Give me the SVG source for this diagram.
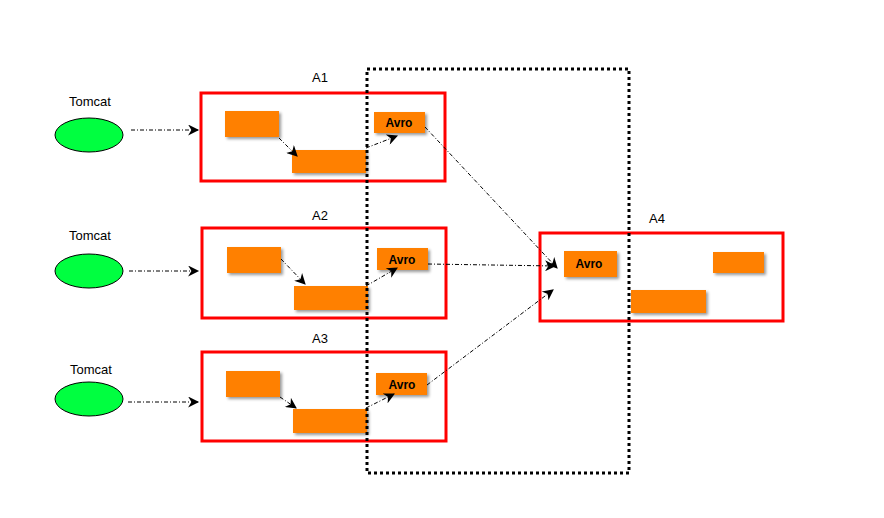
<svg xmlns="http://www.w3.org/2000/svg" width="884" height="518" viewBox="0 0 884 518">
<defs>
<marker id="ah" viewBox="0 0 10 10" refX="9" refY="5" markerWidth="13" markerHeight="11" orient="auto" markerUnits="userSpaceOnUse"><path d="M0,0 L10,5 L0,10 L3,5 z" fill="#000"/></marker>
<filter id="sh" x="-20%" y="-20%" width="150%" height="160%"><feDropShadow dx="2" dy="2" stdDeviation="1.5" flood-color="#000" flood-opacity="0.4"/></filter>
</defs>
<style>
.box{fill:none;stroke:#f00;stroke-width:3}
.or{fill:#ff8000;filter:url(#sh)}
.el{fill:#00ff40;stroke:#000;stroke-width:1}
.t{font-family:"Liberation Sans",Arial,sans-serif;font-size:13px;text-anchor:middle;fill:#000;paint-order:stroke;stroke:#fff;stroke-width:3}
.av{font-family:"Liberation Sans",Arial,sans-serif;font-size:12px;font-weight:bold;text-anchor:middle;fill:#000}
.c{fill:none;stroke:#000;stroke-width:1;stroke-dasharray:4,2,1,2;marker-end:url(#ah)}
</style>
<rect width="884" height="518" fill="#fff"/>
<g id="tomcat1"><ellipse class="el" cx="89" cy="135" rx="34" ry="17"/><text class="t" x="90" y="106">Tomcat</text></g>
<g id="tomcat2"><ellipse class="el" cx="89" cy="271" rx="34" ry="17"/><text class="t" x="90" y="240">Tomcat</text></g>
<g id="tomcat3"><ellipse class="el" cx="89" cy="399" rx="34" ry="17"/><text class="t" x="91" y="374">Tomcat</text></g>
<g id="A1"><rect class="box" x="201" y="93" width="244" height="88"/><text class="t" x="320" y="82">A1</text>
<rect class="or" x="225" y="111" width="54" height="26"/><rect class="or" x="292" y="150" width="74" height="23"/>
<rect class="or" x="374" y="112" width="51" height="21"/><text class="av" x="399" y="127">Avro</text></g>
<g id="A2"><rect class="box" x="202" y="228" width="244" height="90"/><text class="t" x="320" y="220">A2</text>
<rect class="or" x="227" y="247" width="54" height="26"/><rect class="or" x="294" y="286" width="74" height="24"/>
<rect class="or" x="377" y="248" width="51" height="22"/><text class="av" x="402" y="264">Avro</text></g>
<g id="A3"><rect class="box" x="202" y="352" width="244" height="89"/><text class="t" x="320" y="343">A3</text>
<rect class="or" x="226" y="371" width="54" height="26"/><rect class="or" x="293" y="409" width="74" height="24"/>
<rect class="or" x="376" y="373" width="51" height="22"/><text class="av" x="402" y="389">Avro</text></g>
<g id="A4"><rect class="box" x="540" y="233" width="243" height="88"/><text class="t" x="657" y="223">A4</text>
<rect class="or" x="564" y="251" width="53" height="26"/><text class="av" x="589" y="268">Avro</text>
<rect class="or" x="713" y="252" width="51" height="21"/><rect class="or" x="631" y="290" width="75" height="23"/></g>
<g id="region"><rect x="367" y="69" width="262" height="404" fill="none" stroke="#000" stroke-width="3" stroke-dasharray="3,3"/></g>
<g id="connectors">
<path class="c" d="M131,130 L198,130"/>
<path class="c" d="M129,271 L198,271"/>
<path class="c" d="M128,402 L198,402"/>
<path class="c" d="M279,138 L297,156"/>
<path class="c" d="M281,259 L305,284"/>
<path class="c" d="M280,397 L296,408"/>
<path class="c" d="M366,148 L397,136"/>
<path class="c" d="M366,286 L397,268"/>
<path class="c" d="M366,408 L394,394"/>
<path class="c" d="M425,127 L557,268"/>
<path class="c" d="M428,264 L555,266"/>
<path class="c" d="M427,385 L553,290"/>
</g>
</svg>
